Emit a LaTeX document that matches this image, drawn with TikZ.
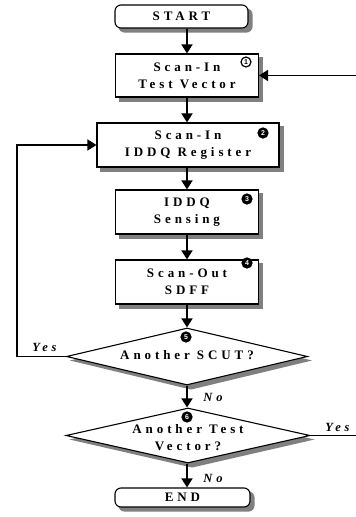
\documentclass[tikz,border=0pt]{standalone}
\usepackage{fontspec}
\usetikzlibrary{shapes.geometric,arrows.meta}
\newfontfamily\flowfont[LetterSpace=30]{Liberation Serif}
\newfontfamily\markfont{Liberation Sans}
\newcommand\flowtext{\flowfont\bfseries\fontsize{13}{17}\selectfont}
\newcommand\flowitalic{\flowfont\bfseries\itshape\fontsize{12.5}{14}\selectfont}
\pgfdeclarelayer{shadowlayer}
\pgfsetlayers{shadowlayer,main}

\begin{document}
\begin{tikzpicture}[x=1pt,y=-1pt,
  shadowfill/.style={fill=black!50},
  stepbox/.style={draw,line width=1.1pt,fill=white,
    minimum width=143pt,minimum height=44pt,align=center,inner sep=0pt,font=\flowtext},
  termbox/.style={stepbox,rounded corners=6pt},
  decision/.style={diamond,draw,line width=1.1pt,fill=white,inner sep=0pt},
  flowlabel/.style={inner sep=0pt,align=center,font=\flowtext},
  branch/.style={inner sep=0pt,font=\flowitalic},
  stepno/.style={circle,draw,line width=1.2pt,minimum size=10pt,inner sep=0pt,
    font=\markfont\bfseries\fontsize{7}{7}\selectfont},
  stepnofill/.style={stepno,fill=black,text=white},
  flowarrow/.style={line width=1.5pt,-{Triangle[length=9pt,width=11pt]}}]
\useasboundingbox (0,0) rectangle (356,517);

% process boxes and terminals
\node[termbox,minimum width=133pt,minimum height=23pt] (start) at (181.5,16.5) {START};
\node[stepbox,minimum height=43pt] (b1) at (187,75.5) {Scan-In\\Test Vector};
\node[stepbox,minimum width=182pt] (b2) at (188,145) {Scan-In\\IDDQ Register};
\node[stepbox] (b3) at (187,212) {IDDQ\\Sensing};
\node[stepbox] (b4) at (187,282) {Scan-Out\\SDFF};

% decisions
\node[decision,minimum width=241pt,minimum height=57pt] (d1) at (187,356.5) {};
\node[flowlabel] (d1t) at (187,355) {Another SCUT?};
\node[decision,minimum width=244pt,minimum height=55pt] (d2) at (188,435.5) {};
\node[flowlabel] (d2t) at (188,437.5) {Another Test\\Vector?};

\node[termbox,minimum width=135pt,minimum height=19pt] (end) at (182.5,497.5) {END};

% drop shadows, offset down and to the right, behind every shape
\begin{pgfonlayer}{shadowlayer}
  \fill[shadowfill] ([shift={(4,4)}]b1.north west) rectangle ([shift={(4,4)}]b1.south east);
  \fill[shadowfill] ([shift={(4,4)}]b2.north west) rectangle ([shift={(4,4)}]b2.south east);
  \fill[shadowfill] ([shift={(4,4)}]b3.north west) rectangle ([shift={(4,4)}]b3.south east);
  \fill[shadowfill] ([shift={(4,4)}]b4.north west) rectangle ([shift={(4,4)}]b4.south east);
  \fill[shadowfill,rounded corners=6pt] ([shift={(4,4)}]start.north west) rectangle ([shift={(4,4)}]start.south east);
  \fill[shadowfill,rounded corners=6pt] ([shift={(4,4)}]end.north west) rectangle ([shift={(4,4)}]end.south east);
  \fill[shadowfill] ([shift={(4,4)}]d1.north) -- ([shift={(4,4)}]d1.east)
      -- ([shift={(4,4)}]d1.south) -- ([shift={(4,4)}]d1.west) -- cycle;
  \fill[shadowfill] ([shift={(4,4)}]d2.north) -- ([shift={(4,4)}]d2.east)
      -- ([shift={(4,4)}]d2.south) -- ([shift={(4,4)}]d2.west) -- cycle;
\end{pgfonlayer}

% step numbers
\node[stepno] (n1) at (246,62) {1};
\node[stepnofill] (n2) at (263,133) {2};
\node[stepnofill] (n3) at (247,199) {3};
\node[stepnofill] (n4) at (247,263) {4};
\node[stepnofill] (n5) at (186,337) {5};
\node[stepnofill] (n6) at (187,417) {6};

% main flow
\draw[flowarrow] (start.south -| b1.north) -- (b1.north);
\draw[flowarrow] (b1.south) -- (b1.south |- b2.north);
\draw[flowarrow] (b3.north |- b2.south) -- (b3.north);
\draw[flowarrow] (b3.south) -- (b4.north);
\draw[flowarrow] (b4.south) -- (d1.north);
\draw[flowarrow] (d1.south) -- (d1.south |- d2.north);
\draw[flowarrow] (d1.south |- d2.south) -- (d1.south |- end.north);

% loop back to the IDDQ register
\coordinate (loopL) at (17,356.5);
\draw[flowarrow] (d1.west) -- (loopL) |- (b2.west);

% loop back to the next test vector (runs off the page edge)
\begin{scope}
  \clip (0,0) rectangle (356,517);
  \coordinate (loopR) at (364,437.5);
  \draw[flowarrow] (d2.east) -- (d2.east -| loopR) |- (b1.east);
\end{scope}

% branch labels
\node[branch] (yes1) at (44.5,347) {Yes};
\node[branch] (yes2) at (337.5,427) {Yes};
\node[branch] (no1) at (213,397) {No};
\node[branch] (no2) at (213,478) {No};
\end{tikzpicture}
\end{document}
